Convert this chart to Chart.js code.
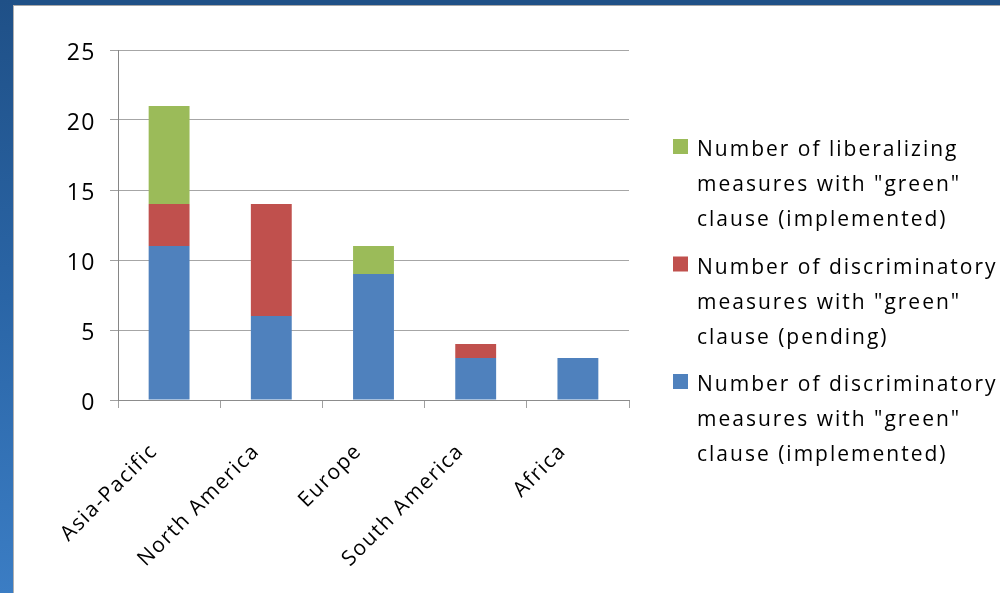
<!DOCTYPE html>
<html>
<head>
<meta charset="utf-8">
<script src="https://cdn.jsdelivr.net/npm/chart.js@4/dist/chart.umd.min.js"></script>
<style>
  html, body { margin: 0; padding: 0; }
  body { width: 1000px; height: 593px; position: relative; overflow: hidden; background: #ffffff; }
  #topband { position: absolute; left: 0; top: 0; width: 1000px; height: 5px; background: #1f5187; }
  #topline { position: absolute; left: 13px; top: 5px; width: 987px; height: 1px; background: #a8a8a8; }
  #leftband { position: absolute; left: 0; top: 0; width: 13px; height: 593px; background: linear-gradient(to bottom, #1f5087 0%, #2a65a6 50%, #3b7dc4 100%); }
  #leftline { position: absolute; left: 13px; top: 5px; width: 1px; height: 588px; background: #b0b0b0; }
  #wrap { position: absolute; left: 0; top: 0; width: 1000px; height: 593px; }
</style>
</head>
<body>
<div id="topband"></div>
<div id="leftband"></div>
<div id="topline"></div>
<div id="leftline"></div>
<div id="wrap"><canvas id="c" width="1000" height="593"></canvas></div>
<script>
// ---- data ----
const categories = ["Asia-Pacific", "North America", "Europe", "South America", "Africa"];
const discrImplemented = [11, 6, 9, 3, 3];
const discrPending = [3, 8, 0, 1, 0];
const liberalImplemented = [7, 0, 2, 0, 0];
const seriesNames = [
  'Number of discriminatory measures with "green" clause (implemented)',
  'Number of discriminatory measures with "green" clause (pending)',
  'Number of liberalizing measures with "green" clause (implemented)'
];
const legendLines = [
  ['Number of discriminatory', 'measures with "green"', 'clause (implemented)'],
  ['Number of discriminatory', 'measures with "green"', 'clause (pending)'],
  ['Number of liberalizing', 'measures with "green"', 'clause (implemented)']
];
const yTicks = [0, 5, 10, 15, 20, 25];
const colors = ['#4f81bd', '#c0504d', '#9bbb59'];

const FONT = "'Open Sans', 'DejaVu Sans', sans-serif";

const spacingPlugin = {
  id: 'spacing',
  beforeDraw(chart) { chart.ctx.letterSpacing = '1.5px'; }
};

const legendPlugin = {
  id: 'customLegend',
  afterDraw(chart) {
    const ctx = chart.ctx;
    ctx.save();
    ctx.letterSpacing = '2px';
    ctx.font = "21px " + FONT;
    ctx.fillStyle = '#000000';
    ctx.textBaseline = 'alphabetic';
    ctx.textAlign = 'left';
    const ds = chart.data.datasets;
    const baseY = 156, groupGap = 117.5, lineGap = 35;
    for (let k = 0; k < ds.length; k++) {
      const i = ds.length - 1 - k;
      const y0 = baseY + k * groupGap;
      ctx.fillStyle = ds[i].backgroundColor;
      ctx.fillRect(673, y0 - 17, 15, 15);
      ctx.fillStyle = '#000000';
      legendLines[i].forEach((ln, j) => ctx.fillText(ln, 697, y0 + j * lineGap));
    }
    ctx.restore();
  }
};

new Chart(document.getElementById('c'), {
  type: 'bar',
  data: {
    labels: categories,
    datasets: [
      { label: seriesNames[0], data: discrImplemented, backgroundColor: colors[0] },
      { label: seriesNames[1], data: discrPending, backgroundColor: colors[1] },
      { label: seriesNames[2], data: liberalImplemented, backgroundColor: colors[2] }
    ]
  },
  options: {
    responsive: false,
    animation: false,
    devicePixelRatio: 1,
    layout: { padding: { left: 0, top: 50, right: 371, bottom: 0 } },
    plugins: { legend: { display: false }, tooltip: { enabled: false } },
    datasets: { bar: { categoryPercentage: 1.0, barPercentage: 0.4 } },
    scales: {
      x: {
        stacked: true,
        afterFit(s) { s.height = 193; },
        grid: { display: true, drawOnChartArea: false, drawTicks: true, tickLength: 8, color: '#a0a0a0', tickColor: '#a0a0a0', offset: true },
        border: { display: true, color: '#8c8c8c', width: 1 },
        ticks: {
          autoSkip: false, maxRotation: 45, minRotation: 45, padding: 31, labelOffset: -15,
          color: '#000000', font: { family: FONT, size: 21 }
        }
      },
      y: {
        stacked: true,
        min: 0, max: 25,
        afterFit(s) { s.width = 118; },
        afterBuildTicks(s) { s.ticks = yTicks.map(v => ({ value: v })); },
        grid: { color: '#a6a6a6', tickColor: '#a0a0a0', tickLength: 8, lineWidth: 1 },
        border: { display: true, color: '#868686', width: 1 },
        ticks: { padding: 14, labelOffset: 3, color: '#000000', font: { family: FONT, size: 23 } }
      }
    }
  },
  plugins: [spacingPlugin, legendPlugin]
});
</script>
</body>
</html>
